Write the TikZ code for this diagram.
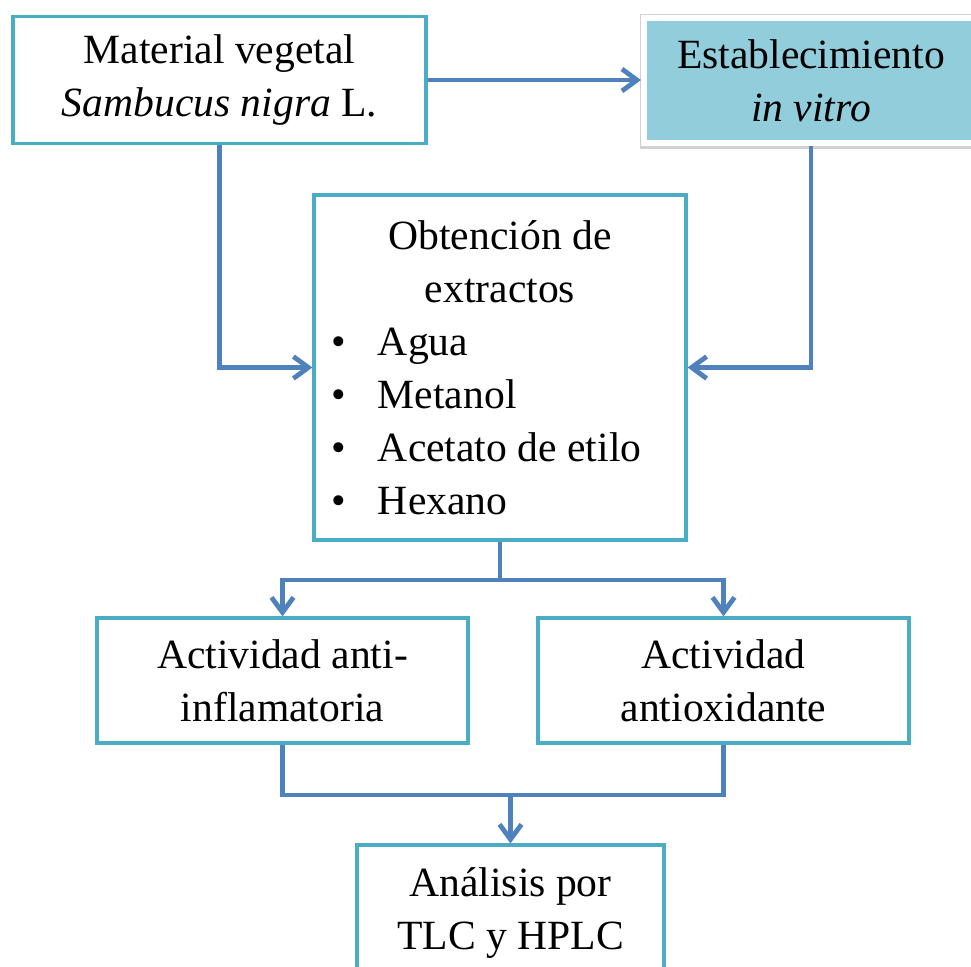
\documentclass[tikz,border=0pt]{standalone}
\usepackage{fontspec}
\setmainfont{Liberation Serif}
\usetikzlibrary{arrows.meta,backgrounds}
\definecolor{boxline}{RGB}{75,172,198}
\definecolor{flowblue}{RGB}{79,129,189}
\definecolor{boxfill}{RGB}{146,205,220}

\begin{document}
\begin{tikzpicture}[x=0.5pt,y=-0.5pt]
\tikzstyle{every node}=[font=\fontsize{20.8pt}{26.5pt}\selectfont]
\tikzstyle{box}=[draw=boxline, line width=1.6pt, fill=white, align=center, inner sep=0pt]
\tikzstyle{shadedbox}=[draw=white, line width=3pt, fill=boxfill, align=center, inner sep=0pt]
\tikzstyle{link}=[draw=flowblue, line width=2.4pt]
\tikzstyle{flow}=[link, -{Straight Barb[length=7.5pt,width=11pt]}]
\useasboundingbox (0,0) rectangle (971,966);

\node (material) [box, minimum width=206.5pt, minimum height=63.5pt] at (219.5,80) {Material vegetal\\\textit{Sambucus nigra} L.};
\node (estab) [shadedbox, minimum width=167pt, minimum height=62.5pt] at (811,80.5) {Establecimiento\\\textit{in vitro}};
\node (obtencion) [box, text width=169pt, inner xsep=8.5pt, minimum height=172.5pt, align=left] at (500,367.5) {%
  \spaceskip=0pt \xspaceskip=0pt
  {\centering Obtención de\\ extractos\par}
  \raggedright
  \makebox[23.5pt][l]{\textbullet}Agua\\
  \makebox[23.5pt][l]{\textbullet}Metanol\\
  \makebox[23.5pt][l]{\textbullet}Acetato de etilo\\
  \makebox[23.5pt][l]{\textbullet}Hexano\par};
\node (antiinf) [box, minimum width=185.5pt, minimum height=62.5pt] at (282.5,680.5) {Actividad anti-\\inflamatoria};
\node (antiox) [box, minimum width=185.5pt, minimum height=62.5pt] at (723.5,680.5) {Actividad\\antioxidante};
\node (analisis) [box, minimum width=153.5pt, minimum height=68pt] at (510.5,913) {Análisis por\\TLC y HPLC};

% shadow behind the shaded box
\begin{scope}[on background layer]
\fill [black!18] ([shift={(-0.6pt,0.6pt)}]estab.north west) rectangle ([shift={(0.6pt,-1.4pt)}]estab.south east);
\end{scope}

\coordinate (split) at (500,580);
\coordinate (merge) at (510.5,795);

\draw [flow] (material.east) -- (material.east -| estab.west);
\draw [flow] (material.south) |- (obtencion.west);
\draw [flow] (estab.south) |- (obtencion.east);
\draw [link] (obtencion.south) -- (split);
\draw [flow] (split) -| (antiinf.north);
\draw [flow] (split) -| (antiox.north);
\draw [link] (antiinf.south) |- (merge);
\draw [link] (antiox.south) |- (merge);
\draw [flow] (merge) -- (analisis.north);
\end{tikzpicture}
\end{document}
